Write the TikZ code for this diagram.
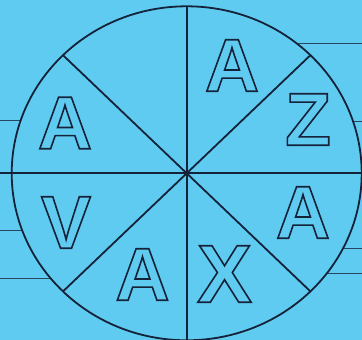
\documentclass[tikz,border=0pt]{standalone}
\usepackage{fontspec}
\usetikzlibrary{calc}
\setmainfont{Liberation Sans}
\definecolor{bg}{RGB}{96,203,240}
\definecolor{ink}{RGB}{20,34,58}
\definecolor{stubc}{RGB}{40,70,95}
\newcommand\outl[1]{\special{pdf:literal direct 1 Tr 1.6 w}#1\special{pdf:literal direct 0 Tr}}
\begin{document}
\begin{tikzpicture}[x=1pt,y=-1pt,
  letter/.style={inner sep=0pt, text=ink, font=\bfseries\fontsize{75}{75}\selectfont},
  rim/.style={draw=ink, line width=1.8pt},
  stub/.style={draw=stubc, line width=1pt}]
\useasboundingbox (0,0) rectangle (362,340);
\fill[bg] (0,0) rectangle (362,340);
\coordinate (c) at (186.7,173.3);
% stubs
\draw[stub] (0,120.7) -- (186,120.7);
\draw[stub] (0,230) -- (186,230);
\draw[stub] (0,278.3) -- (186,278.3);
\draw[stub] (186,43.3) -- (362,43.3);
\draw[stub] (186,121.7) -- (362,121.7);
\draw[stub] (186,248.3) -- (362,248.3);
\draw[stub] (186,273) -- (362,273);
\fill[bg] (c) ellipse [x radius=175, y radius=167];
% diameters
\draw[rim] (0,173.3) -- (362,173.3);
\draw[rim] ($(c)+(0,-167)$) -- ($(c)+(0,167)$);
\draw[rim] ($(c)+(-123.7,-118.1)$) -- ($(c)+(123.7,118.1)$);
\draw[rim] ($(c)+(123.7,-118.1)$) -- ($(c)+(-123.7,118.1)$);
\draw[rim] (c) ellipse [x radius=175, y radius=167];
\fill[ink] (c) circle [radius=2.8];
% letters
\node[letter] (a1) at (232,65.5) {\outl{A}};
\node[letter] (z) at (308,119.5) {\outl{Z}};
\node[letter] (a2) at (303,212.5) {\outl{A}};
\node[letter, font=\bfseries\fontsize{82}{82}\selectfont] (x) at (224.5,274) {\outl{X}};
\node[letter] (a3) at (142.5,274.5) {\outl{A}};
\node[letter] (v) at (66,222.5) {\outl{V}};
\node[letter] (a4) at (65,123) {\outl{A}};
\end{tikzpicture}
\end{document}
